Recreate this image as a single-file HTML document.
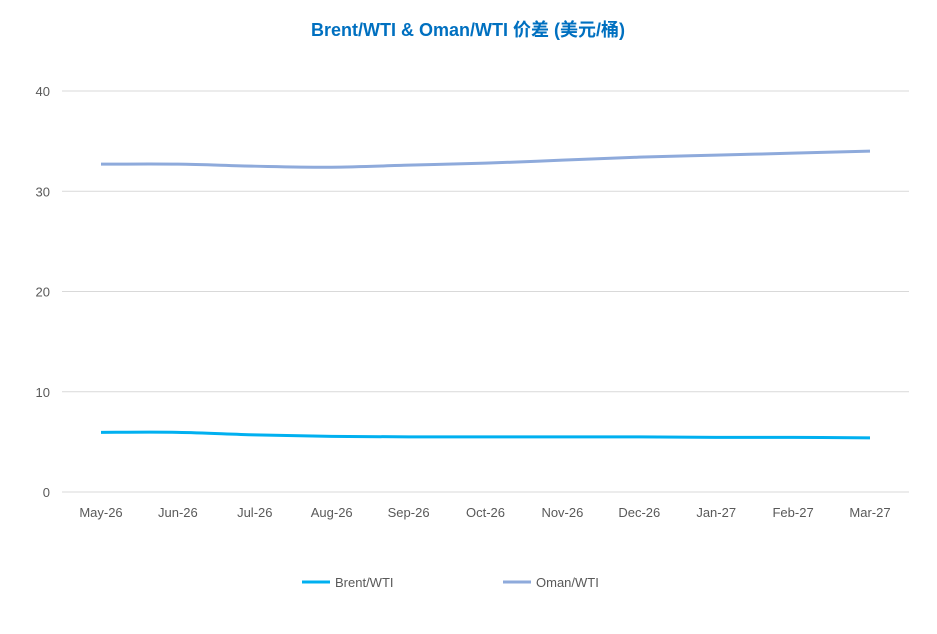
<!DOCTYPE html>
<html><head><meta charset="utf-8">
<style>
body{margin:0;background:#fff;}
svg{display:block;font-family:"Liberation Sans","Noto Sans CJK SC",sans-serif;}
</style></head>
<body>
<svg id="chart" width="937" height="634">
<text x="468" y="36" text-anchor="middle" font-size="18" font-weight="bold" fill="#0070c0">Brent/WTI &amp; Oman/WTI 价差 (美元/桶)</text>
<g id="grid"></g><g id="yt"></g><g id="xt"></g><g id="series"></g>
<g>
<line x1="302" y1="582" x2="330" y2="582" stroke="#00b0f0" stroke-width="3"/>
<text x="335" y="587" font-size="13" fill="#595959">Brent/WTI</text>
<line x1="503" y1="582" x2="531" y2="582" stroke="#8eaadb" stroke-width="3"/>
<text x="536" y="587" font-size="13" fill="#595959">Oman/WTI</text>
</g>
</svg>
<script>
const categories=["May-26","Jun-26","Jul-26","Aug-26","Sep-26","Oct-26","Nov-26","Dec-26","Jan-27","Feb-27","Mar-27"];
const brentWti=[5.95,5.95,5.7,5.55,5.5,5.5,5.5,5.5,5.45,5.45,5.4];
const omanWti=[32.7,32.7,32.5,32.4,32.6,32.8,33.1,33.4,33.6,33.8,34.0];
const yTicks=[0,10,20,30,40];
const NS="http://www.w3.org/2000/svg";
const x0=101,dx=76.9,yBase=492,yTop=91,yMax=40;
const X=i=>x0+i*dx, Y=v=>yBase-(v/yMax)*(yBase-yTop);
function mk(t,a,p){const e=document.createElementNS(NS,t);for(const k in a)e.setAttribute(k,a[k]);p.appendChild(e);return e;}
const grid=document.getElementById('grid'),yt=document.getElementById('yt'),xt=document.getElementById('xt'),ser=document.getElementById('series');
yTicks.forEach(v=>{
 const l=mk('line',{x1:62,x2:909,y1:Y(v),y2:Y(v),stroke:'#d9d9d9','stroke-width':1},grid);
 
 
 const t=mk('text',{x:50,y:Y(v)+5,'text-anchor':'end','font-size':13,fill:'#595959'},yt);t.textContent=v;
 
 
});
categories.forEach((c,i)=>{
 const t=mk('text',{x:X(i),y:517,'text-anchor':'middle','font-size':13,fill:'#595959'},xt);t.textContent=c;
 
 
});
function path(vals){
 const p=vals.map((v,i)=>[X(i),Y(v)]);let d='M'+p[0][0]+','+p[0][1];
 for(let i=0;i<p.length-1;i++){const a=p[i-1]||p[i],b=p[i],c=p[i+1],e=p[i+2]||c;
  d+=' C'+(b[0]+(c[0]-a[0])/6)+','+(b[1]+(c[1]-a[1])/6)+' '+(c[0]-(e[0]-b[0])/6)+','+(c[1]-(e[1]-b[1])/6)+' '+c[0]+','+c[1];}
 return d;}
const l1=mk('path',{d:path(omanWti),fill:'none',stroke:'#8eaadb','stroke-width':3},ser);


const l2=mk('path',{d:path(brentWti),fill:'none',stroke:'#00b0f0','stroke-width':3},ser);


</script>
</body></html>
